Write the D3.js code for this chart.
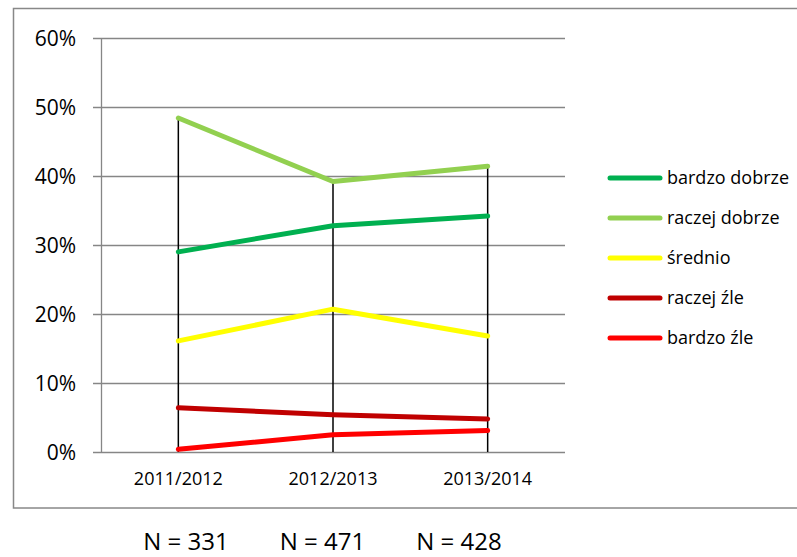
<!DOCTYPE html>
<html>
<head>
<meta charset="utf-8">
<script src="https://cdn.jsdelivr.net/npm/d3@7"></script>
<style>
  body { margin: 0; background: #fff; }
  text { font-family: "Open Sans", "Liberation Sans", sans-serif; fill: #000; }
</style>
</head>
<body>
<div id="chart"></div>
<script>
// dane
const categories = ['2011/2012', '2012/2013', '2013/2014'];
const seriesNames = ['bardzo dobrze', 'raczej dobrze', 'średnio', 'raczej źle', 'bardzo źle'];
const seriesColors = ['#00B050', '#92D050', '#FFFF00', '#C00000', '#FF0000'];
const bardzoDobrze = [0.290, 0.328, 0.342];
const raczejDobrze = [0.484, 0.392, 0.414];
const srednio = [0.161, 0.207, 0.168];
const raczejZle = [0.064, 0.054, 0.048];
const bardzoZle = [0.004, 0.025, 0.031];
const yTicks = [0, 0.1, 0.2, 0.3, 0.4, 0.5, 0.6];
const nLabels = ['N = 331', 'N = 471', 'N = 428'];

const values = [bardzoDobrze, raczejDobrze, srednio, raczejZle, bardzoZle];
const series = seriesNames.map((name, i) => ({ name, color: seriesColors[i], values: values[i] }));

const width = 797, height = 557;
const svg = d3.select('#chart').append('svg')
  .attr('width', width)
  .attr('height', height);

// ramka wykresu
svg.append('rect')
  .attr('x', 13.5).attr('y', 8.5)
  .attr('width', 800).attr('height', 499.5)
  .attr('fill', 'none').attr('stroke', '#888').attr('stroke-width', 1.5);

const plot = { left: 101, right: 565, top: 38, bottom: 452 };

const x = d3.scalePoint()
  .domain(categories)
  .range([plot.left, plot.right])
  .padding(0.5);

const y = d3.scaleLinear()
  .domain([0, 0.6])
  .range([plot.bottom, plot.top]);

// linie siatki
svg.append('g')
  .selectAll('line')
  .data(yTicks)
  .enter()
  .append('line')
  .attr('x1', plot.left - 8).attr('x2', plot.right)
  .attr('y1', d => Math.round(y(d)) + 0.5).attr('y2', d => Math.round(y(d)) + 0.5)
  .attr('stroke', '#868686').attr('stroke-width', 1.3);

// oś Y
svg.append('line')
  .attr('x1', plot.left + 0.5).attr('x2', plot.left + 0.5)
  .attr('y1', plot.top).attr('y2', plot.bottom)
  .attr('stroke', '#868686').attr('stroke-width', 1.3);

svg.append('g')
  .selectAll('text')
  .data(yTicks)
  .enter()
  .append('text')
  .attr('x', 76)
  .attr('y', d => y(d))
  .attr('dy', '0.36em')
  .attr('text-anchor', 'end')
  .attr('font-size', '21px')
  .text(d => d3.format('.0%')(d));

// linie spadku (od najwyższego punktu do osi)
svg.append('g')
  .selectAll('line')
  .data(categories)
  .enter()
  .append('line')
  .attr('x1', d => x(d)).attr('x2', d => x(d))
  .attr('y1', (d, i) => y(d3.max(values, v => v[i])))
  .attr('y2', y(0))
  .attr('stroke', '#000').attr('stroke-width', 1.5);

// serie
const line = d3.line()
  .x((d, i) => x(categories[i]))
  .y(d => y(d));

svg.append('g')
  .selectAll('path')
  .data(series)
  .enter()
  .append('path')
  .attr('d', d => line(d.values))
  .attr('fill', 'none')
  .attr('stroke', d => d.color)
  .attr('stroke-width', 5)
  .attr('stroke-linecap', 'round')
  .attr('stroke-linejoin', 'round');

// etykiety osi X
svg.append('g')
  .selectAll('text')
  .data(categories)
  .enter()
  .append('text')
  .attr('x', d => x(d))
  .attr('y', 479)
  .attr('dy', '0.36em')
  .attr('text-anchor', 'middle')
  .attr('font-size', '18px')
  .text(d => d);

// legenda
const legend = svg.append('g')
  .selectAll('g')
  .data(series)
  .enter()
  .append('g')
  .attr('transform', (d, i) => `translate(610, ${178 + i * 40})`);

legend.append('line')
  .attr('x1', 0).attr('x2', 50)
  .attr('stroke', d => d.color)
  .attr('stroke-width', 5)
  .attr('stroke-linecap', 'round');

legend.append('text')
  .attr('x', 57)
  .attr('dy', '0.36em')
  .attr('font-size', '18px')
  .text(d => d.name);

// liczebności pod wykresem
svg.append('g')
  .selectAll('text')
  .data(nLabels)
  .enter()
  .append('text')
  .attr('x', (d, i) => 186 + i * 136.5)
  .attr('y', 541)
  .attr('dy', '0.36em')
  .attr('text-anchor', 'middle')
  .attr('font-size', '24px')
  .text(d => d);
</script>
</body>
</html>
